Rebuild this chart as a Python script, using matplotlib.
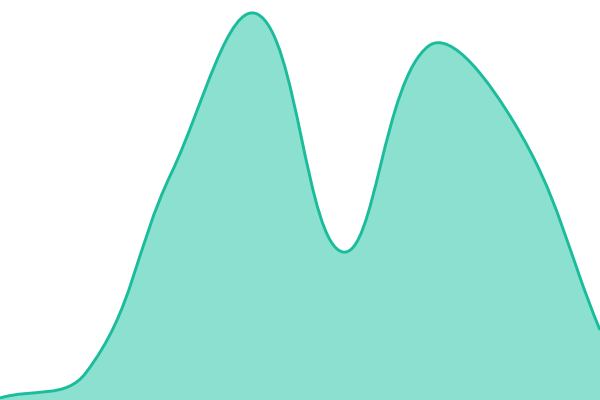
import math
import matplotlib
matplotlib.use("Agg")
import matplotlib.pyplot as plt
from matplotlib.path import Path
from matplotlib.patches import PathPatch

x_vals = [0, 85.7, 171.4, 257.1, 342.9, 428.6, 514.3, 600]
y_vals = [2, 27, 227, 386, 148, 354, 277, 70]

LINE = "#1abc9c"
FILL = "#8be0cf"
TENSION = 0.4

fig = plt.figure(figsize=(6, 4), dpi=100)
ax = fig.add_axes([0, 0, 1, 1])
ax.set_xlim(0, 600)
ax.set_ylim(0, 400)
ax.axis("off")

pts = list(zip(x_vals, y_vals))
n = len(pts)
cp_prev = []
cp_next = []
for i in range(n):
    prev = pts[i - 1] if i > 0 else pts[i]
    cur = pts[i]
    nxt = pts[i + 1] if i < n - 1 else pts[i]
    d01 = math.hypot(cur[0] - prev[0], cur[1] - prev[1])
    d12 = math.hypot(nxt[0] - cur[0], nxt[1] - cur[1])
    tot = d01 + d12
    s01 = d01 / tot if tot else 0
    s12 = d12 / tot if tot else 0
    fa = TENSION * s01
    fb = TENSION * s12
    vx, vy = nxt[0] - prev[0], nxt[1] - prev[1]
    cp_prev.append((min(max(cur[0] - fa * vx, 0), 600), min(max(cur[1] - fa * vy, 0), 400)))
    cp_next.append((min(max(cur[0] + fb * vx, 0), 600), min(max(cur[1] + fb * vy, 0), 400)))

verts = [pts[0]]
codes = [Path.MOVETO]
for i in range(n - 1):
    verts += [cp_next[i], cp_prev[i + 1], pts[i + 1]]
    codes += [Path.CURVE4] * 3

line_path = Path(verts, codes)
fill_verts = verts + [(x_vals[-1], 0), (x_vals[0], 0), verts[0]]
fill_codes = codes + [Path.LINETO, Path.LINETO, Path.CLOSEPOLY]
ax.add_patch(PathPatch(Path(fill_verts, fill_codes), facecolor=FILL, edgecolor="none"))
ax.add_patch(PathPatch(line_path, facecolor="none", edgecolor=LINE, linewidth=2.1))

fig.savefig("out.png", dpi=100)
